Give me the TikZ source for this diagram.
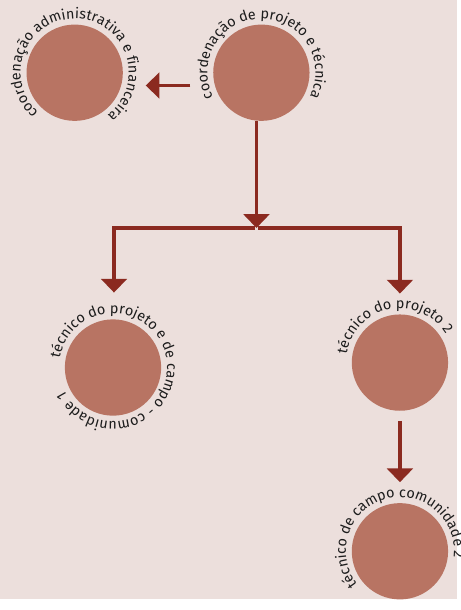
\documentclass[tikz,border=0pt]{standalone}
\usepackage{fontspec}
\setmainfont{Fira Sans}
\usetikzlibrary{arrows.meta,calc,decorations.text}
\definecolor{paper}{HTML}{ECDFDC}
\definecolor{clay}{HTML}{B87463}
\definecolor{rust}{HTML}{8B2A20}
\definecolor{ink}{HTML}{1C1C1C}
\newcommand\ringfont{\fontsize{11}{13}\selectfont\color{ink}}

\begin{document}
\begin{tikzpicture}[x=0.75pt,y=0.75pt,
  disc/.style={circle,fill=clay,minimum size=73.5pt,inner sep=0pt},
  arr/.style={draw=rust,line width=2.9pt,-{Triangle[length=10.5pt,width=19.5pt]}},
  ring/.style={decorate,decoration={text along path,text={|\ringfont|#1}}}]
  \fill[paper] (0,0) rectangle (465,-610);
  \node[disc] (adm) at (76,-74) {};
  \node[disc] (proj) at (266,-74) {};
  \node[disc] (tec1) at (115,-374) {};
  \node[disc] (tec2) at (407,-369) {};
  \node[disc] (campo2) at (407,-561) {};
  \coordinate (split) at (261,-232);
  \path[ring={coordenação administrativa e financeira}] ($(adm)+(228:55)$) arc[start angle=228,delta angle=-350,radius=55];
  \path[ring={coordenação de projeto e técnica}] ($(proj)+(207:55)$) arc[start angle=207,delta angle=-350,radius=55];
  \path[ring={técnico do projeto e de campo - comunidade 1}] ($(tec1)+(170:55)$) arc[start angle=170,delta angle=-355,radius=55];
  \path[ring={técnico do projeto 2}] ($(tec2)+(171:55)$) arc[start angle=171,delta angle=-350,radius=55];
  \path[ring={técnico de campo comunidade 2}] ($(campo2)+(218:55)$) arc[start angle=218,delta angle=-350,radius=55];
  \draw[arr] ($(proj.west)+(-23,-13)$) -- ($(adm.east)+(23,-13)$);
  \draw[arr] (proj.south -| split) -- (split);
  \draw[arr] ([xshift=-1pt]split) -| ($(tec1.north)+(1,27)$);
  \draw[arr] ([xshift=1pt]split) -| ($(tec2.north)+(0,21)$);
  \draw[arr,shorten <=7.5pt,shorten >=15.75pt] (tec2) -- (campo2);
\end{tikzpicture}
\end{document}
